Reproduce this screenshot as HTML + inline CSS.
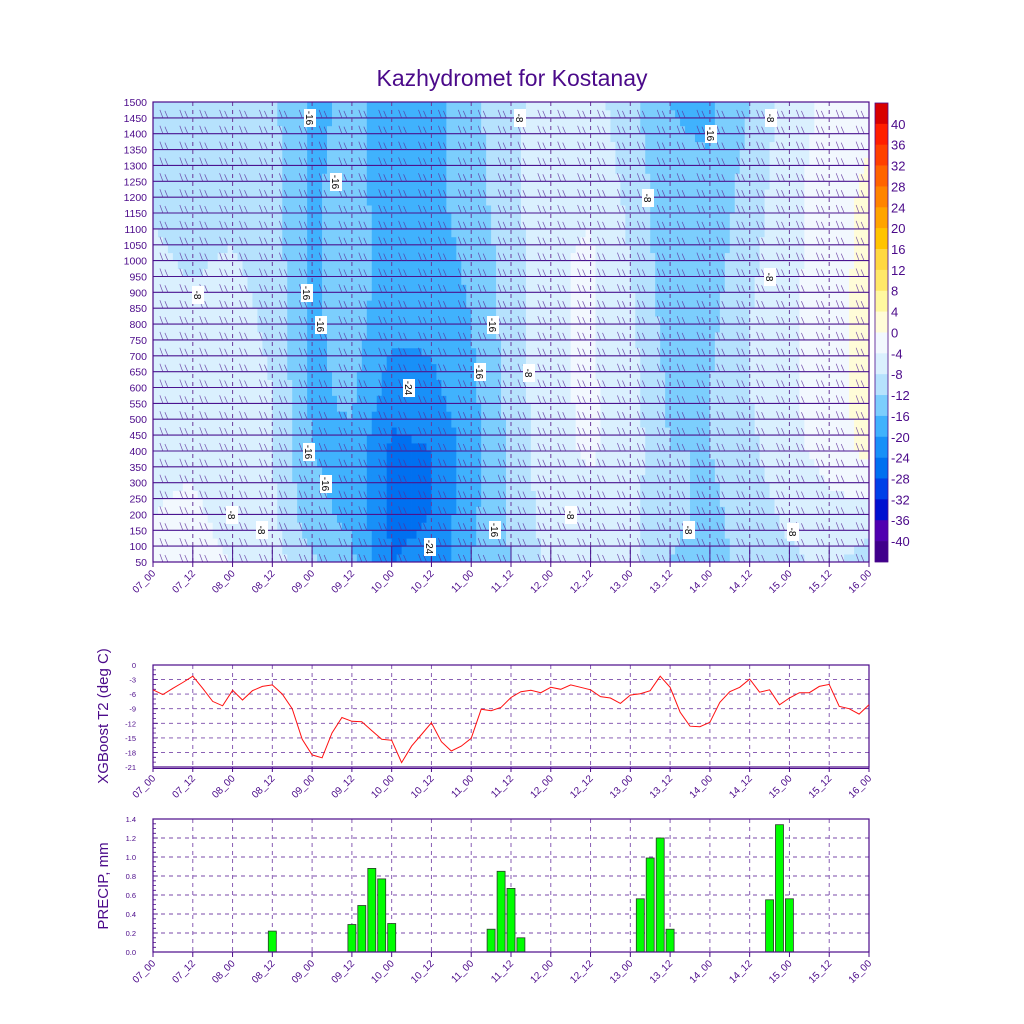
<!DOCTYPE html>
<html><head><meta charset="utf-8"><style>
body{margin:0;background:#fff}
svg{display:block;font-family:"Liberation Sans",sans-serif}
</style></head><body>
<svg id="s" width="1024" height="1024" viewBox="0 0 1024 1024">
<text x="512" y="86" text-anchor="middle" font-size="23" fill="#4b0a8a">Kazhydromet for Kostanay</text>
<g id="heat"></g>
<g id="grid1"></g>
<g id="barbs"></g>
<g id="cbar"></g>
<g id="ax1"></g>
<g id="t2"></g>
<g id="pr"></g>
</svg>
<script>
// ---- data ----
const timeTicks=["07_00","07_12","08_00","08_12","09_00","09_12","10_00","10_12","11_00","11_12","12_00","12_12","13_00","13_12","14_00","14_12","15_00","15_12","16_00"];
const gridHours=[0,12,24,36,48,60,72,84,96,108,120,132,144,156,168,180,192,204,216];
const gridLevels=[50,200,400,600,800,1000,1200,1500];
const tempGrid=[
[-3,-4,-5,-6,-7,-7.5,-8.5,-9.5],
[-2,-3,-5,-6,-7,-8.5,-9,-10],
[-4,-6,-6,-5.5,-6,-7.5,-9.5,-10],
[-6,-7,-8,-8,-9,-10,-10.5,-11],
[-11,-15,-16,-17,-17,-16.5,-16.5,-17],
[-15,-17,-17,-15,-14,-14,-14.5,-15],
[-24,-25,-25,-22,-19,-18,-18,-18],
[-23,-24,-24,-21,-19,-18,-17,-18],
[-16,-17,-18,-17,-16,-15,-14,-13],
[-12,-11,-11,-10.5,-10,-10,-9,-9],
[-7,-6,-5,-4.5,-4.5,-4.5,-5,-6],
[-6,-5,-3.5,-3.5,-3.5,-3.5,-4.5,-6],
[-7,-7,-6,-6,-7,-8,-9,-11],
[-12,-11,-12,-13,-14,-15,-15,-16],
[-14,-13,-12,-12,-13,-14,-15,-17],
[-10,-10,-9,-8,-8,-9,-10,-12],
[-9,-7,-5,-4.5,-4.5,-5,-5,-6],
[-7,-5,-2.5,-2,-2,-2,-2,-3],
[-10,-6,1.5,2,2,1.5,1,-1]];
const levelTicks=[];for(let v=50;v<=1500;v+=50)levelTicks.push(v);
const cbarLabels=[40,36,32,28,24,20,16,12,8,4,0,-4,-8,-12,-16,-20,-24,-28,-32,-36,-40];
const cbarColors=["#d80000","#ff1e00","#ff4000","#ff6400","#ff8400","#ffa400","#ffc400","#ffd840","#ffe868","#fff8a0","#fffcd8","#f2f8fe","#daf0fe","#b6e2fd","#7ccefd","#40b2fd","#1890f8","#0070f0","#0040e8","#0010d0","#5000b0","#40008c"];
const t2Values=[-5.1,-6.1,-4.8,-3.6,-2.3,-4.8,-7.5,-8.4,-5.2,-7.2,-5.3,-4.4,-4.1,-6.0,-9.0,-15.3,-18.5,-19.1,-14.0,-10.8,-11.6,-11.7,-13.5,-15.3,-15.5,-20.1,-16.7,-14.3,-11.9,-15.8,-17.7,-16.7,-15.1,-9.1,-9.4,-8.7,-6.7,-5.5,-5.2,-5.7,-4.6,-5.0,-4.1,-4.6,-5.1,-6.5,-6.8,-7.9,-6.2,-5.9,-5.3,-2.3,-4.6,-9.7,-12.6,-12.7,-11.8,-7.7,-5.5,-4.6,-2.9,-5.6,-5.1,-8.2,-6.8,-5.7,-5.7,-4.4,-4.0,-8.5,-9.0,-10.1,-8.2];
const t2Ticks=[0,-3,-6,-9,-12,-15,-18,-21];
const precipHours=[36,60,63,66,69,72,102,105,108,111,147,150,153,156,186,189,192];
const precipValues=[0.22,0.29,0.49,0.88,0.77,0.30,0.24,0.85,0.67,0.15,0.56,0.99,1.20,0.24,0.55,1.34,0.56];
const precipTicks=[0,0.2,0.4,0.6,0.8,1.0,1.2,1.4];

const NS="http://www.w3.org/2000/svg";
const PUR="#4b0a8a";
function mk(p,tag,at){const e=document.createElementNS(NS,tag);for(const k in at)e.setAttribute(k,at[k]);p.appendChild(e);return e;}
const X0=153,X1=869;
const xH=h=>X0+h/216*(X1-X0);
// ---- top contour ----
const YT=102,YB=562;
const yL=l=>YB-(l-50)/1450*(YB-YT);
function interp(h,l){
 let i=0;while(i<gridHours.length-2&&h>gridHours[i+1])i++;
 let j=0;while(j<gridLevels.length-2&&l>gridLevels[j+1])j++;
 const fx=(h-gridHours[i])/(gridHours[i+1]-gridHours[i]);
 const fy=(l-gridLevels[j])/(gridLevels[j+1]-gridLevels[j]);
 const a=tempGrid[i][j],b=tempGrid[i+1][j],c=tempGrid[i][j+1],d=tempGrid[i+1][j+1];
 return a*(1-fx)*(1-fy)+b*fx*(1-fy)+c*(1-fx)*fy+d*fx*fy;
}
function colorOf(v){
 if(v>=40)return cbarColors[0];if(v<-40)return cbarColors[21];
 const k=Math.floor((40-v)/4)+1;return cbarColors[Math.min(21,Math.max(0,k))];
}
const heat=document.getElementById('heat');
const dh=1.5,dl=25;
for(let h=0;h<216;h+=dh){for(let l=50;l<1500;l+=dl){
 const v=interp(h+dh/2,l+dl/2);
 const r=mk(heat,'rect',{x:xH(h).toFixed(2),y:yL(l+dl).toFixed(2),width:(xH(h+dh)-xH(h)+0.4).toFixed(2),height:(yL(l)-yL(l+dl)+0.4).toFixed(2),fill:colorOf(v)});
 
 
}}
const g1=document.getElementById('grid1');
let pth="";
levelTicks.forEach(l=>{pth+=`M${X0} ${yL(l).toFixed(1)}H${X1}`;});
mk(g1,'path',{d:pth,stroke:"#4a1490",'stroke-width':1.1,fill:"none"});
let vd="";
timeTicks.forEach((t,i)=>{if(i>0&&i<18)vd+=`M${xH(i*12).toFixed(1)} ${YT}V${YB}`;});
mk(g1,'path',{d:vd,stroke:"#6a3a9a",'stroke-width':1,'stroke-dasharray':"4 4",fill:"none"});
let bv="";
timeTicks.forEach((t,i)=>{if(i>0&&i<18)bv+=`M${xH(i*12).toFixed(1)} ${yL(100)}V${YB}`;});
mk(g1,'path',{d:bv,stroke:"#4a1490",'stroke-width':1,fill:"none"});
// barbs
const gb=document.getElementById('barbs');let bd="";
for(let h=3;h<216;h+=6){levelTicks.forEach(l=>{if(l>=1500)return;const x=xH(h),y=yL(l);
 bd+=`M${(x-3).toFixed(1)} ${(y-8).toFixed(1)}L${x.toFixed(1)} ${y.toFixed(1)}M${(x+2).toFixed(1)} ${(y-7).toFixed(1)}L${(x+5).toFixed(1)} ${y.toFixed(1)}`;});}
mk(gb,'path',{d:bd,stroke:"#5a2a9a",'stroke-width':0.7,fill:"none",opacity:0.8});
// contour labels
const labs=[[198,295,"-8"],[310,118,"-16"],[336,182,"-16"],[307,293,"-16"],[321,325,"-16"],[409,388,"-24"],[480,372,"-16"],[493,325,"-16"],[309,452,"-16"],[326,484,"-16"],[232,515,"-8"],[262,530,"-8"],[430,547,"-24"],[495,530,"-16"],[520,118,"-8"],[648,198,"-8"],[711,134,"-16"],[771,118,"-8"],[770,277,"-8"],[529,373,"-8"],[571,515,"-8"],[689,530,"-8"],[793,532,"-8"]];
labs.forEach(a=>{const g=mk(gb,'g',{transform:`translate(${a[0]},${a[1]}) rotate(90)`});
 
 mk(g,'rect',{x:-9,y:-6,width:18,height:12,fill:"#fff"});
 const t=mk(g,'text',{x:0,y:4,'text-anchor':"middle",'font-size':10,fill:"#000"});t.textContent=a[2];});
// axes
const ax=document.getElementById('ax1');
mk(ax,'rect',{x:X0,y:YT,width:X1-X0,height:YB-YT,fill:"none",stroke:PUR,'stroke-width':1.2});
levelTicks.forEach(l=>{const t=mk(ax,'text',{x:147,y:yL(l)+4,'text-anchor':"end",'font-size':10.5,fill:PUR});t.textContent=l;
 });
function xLabels(g,y){timeTicks.forEach((s,i)=>{const x=xH(i*12);
 mk(g,'line',{x1:x,y1:y,x2:x,y2:y+5,stroke:PUR});
 const t=mk(g,'text',{x:x+3,y:y+12,'text-anchor':"end",'font-size':10,fill:PUR,transform:`rotate(-45 ${x+3} ${y+12})`});t.textContent=s;
 });}
xLabels(ax,YB);
// colorbar
const cb=document.getElementById('cbar');const CY0=103,CH=20.86;
cbarColors.forEach((c,i)=>{const r=mk(cb,'rect',{x:875,y:(CY0+i*CH).toFixed(2),width:13,height:(CH+0.3).toFixed(2),fill:c});
 });
mk(cb,'rect',{x:875,y:CY0,width:13,height:CH*22,fill:"none",stroke:PUR,'stroke-width':0.8});
cbarLabels.forEach((v,i)=>{const t=mk(cb,'text',{x:891,y:CY0+(i+1)*CH+5,'font-size':13,fill:PUR});t.textContent=v;
 });
// ---- T2 chart ----
const t2=document.getElementById('t2');const MT=665,MB=767;
const yT=v=>MT+(-v)/21*(MB-MT);
let gd="";t2Ticks.forEach(v=>{if(v!==0&&v!==-21)gd+=`M${X0} ${yT(v).toFixed(1)}H${X1}`;});
timeTicks.forEach((s,i)=>{if(i>0&&i<18)gd+=`M${xH(i*12).toFixed(1)} ${MT}V${MB}`;});
mk(t2,'path',{d:gd,stroke:"#7a4aaa",'stroke-dasharray':"4 4",'stroke-width':0.9,fill:"none"});
mk(t2,'rect',{x:X0,y:MT,width:X1-X0,height:MB-MT,fill:"none",stroke:PUR,'stroke-width':1.2});
mk(t2,'line',{x1:X0,y1:MB+1.5,x2:X1,y2:MB+1.5,stroke:PUR,'stroke-width':1});
let md="";for(let v=0;v>=-21;v-=1)md+=`M${X0} ${yT(v).toFixed(1)}h${v%3===0?5:3}`;
mk(t2,'path',{d:md,stroke:PUR,'stroke-width':0.8});
t2Ticks.forEach(v=>{const t=mk(t2,'text',{x:136,y:yT(v)+3,'text-anchor':"end",'font-size':7.5,fill:PUR});t.textContent=v;
 });
const t2line=mk(t2,'polyline',{points:t2Values.map((v,i)=>xH(i*3).toFixed(1)+","+yT(v).toFixed(1)).join(" "),fill:"none",stroke:"#ff1010",'stroke-width':1});

const tt=mk(t2,'text',{x:108,y:716,'text-anchor':"middle",'font-size':15,fill:PUR,transform:"rotate(-90 108 716)"});tt.textContent="XGBoost T2 (deg C)";

xLabels(t2,MB);
// ---- precip chart ----
const pr=document.getElementById('pr');const PT=819,PB=952;
const yP=v=>PB-v/1.4*(PB-PT);
let pg="";precipTicks.forEach(v=>{if(v>0&&v<1.4)pg+=`M${X0} ${yP(v).toFixed(1)}H${X1}`;});
timeTicks.forEach((s,i)=>{if(i>0&&i<18)pg+=`M${xH(i*12).toFixed(1)} ${PT}V${PB}`;});
mk(pr,'path',{d:pg,stroke:"#7a4aaa",'stroke-dasharray':"4 4",'stroke-width':0.9,fill:"none"});
precipHours.forEach((h,i)=>{const x=xH(h),y=yP(precipValues[i]);
 const r=mk(pr,'rect',{x:(x-4).toFixed(1),y:y.toFixed(1),width:8,height:(PB-y).toFixed(1),fill:"#00ff00",stroke:"#2a3a2a",'stroke-width':0.8});
 });
mk(pr,'rect',{x:X0,y:PT,width:X1-X0,height:PB-PT,fill:"none",stroke:PUR,'stroke-width':1.2});
let pm="";for(let k=0;k<=28;k++){pm+=`M${X0} ${yP(k*0.05).toFixed(1)}h${k%4===0?5:3}`;}
mk(pr,'path',{d:pm,stroke:PUR,'stroke-width':0.8});
precipTicks.forEach(v=>{const t=mk(pr,'text',{x:136,y:yP(v)+3,'text-anchor':"end",'font-size':7.5,fill:PUR});t.textContent=v.toFixed(1);
 });
const pt=mk(pr,'text',{x:108,y:886,'text-anchor':"middle",'font-size':15,fill:PUR,transform:"rotate(-90 108 886)"});pt.textContent="PRECIP, mm";

xLabels(pr,PB);
</script>
</body></html>
